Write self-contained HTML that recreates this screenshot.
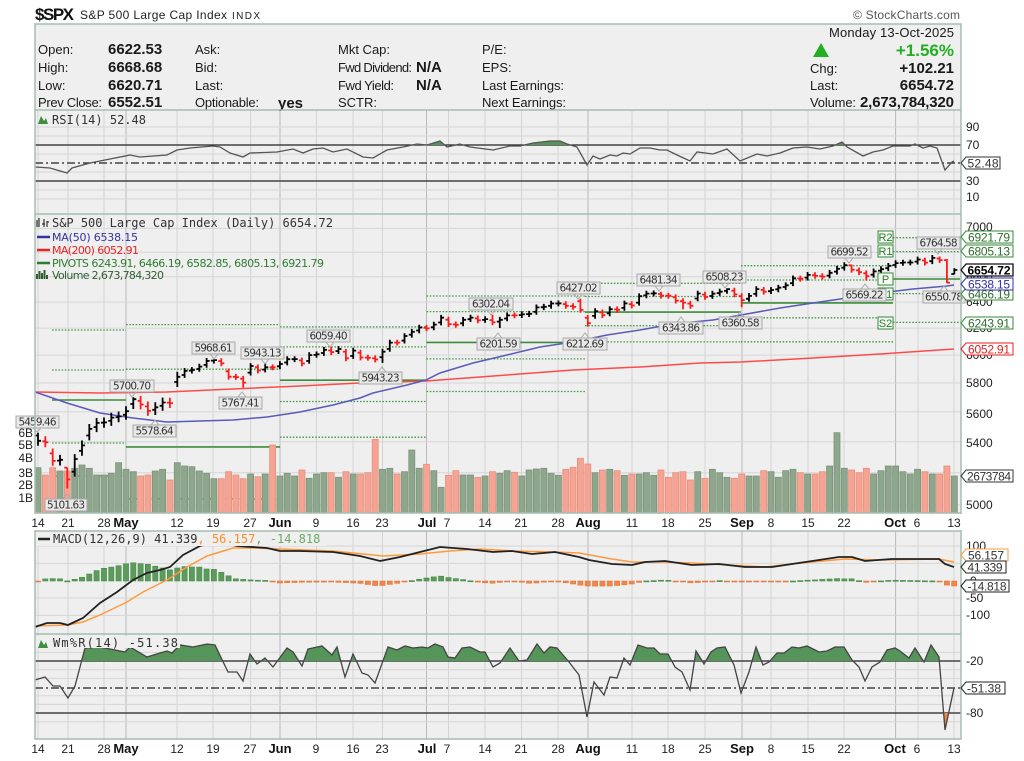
<!DOCTYPE html>
<html><head><meta charset="utf-8"><title>SPX</title>
<style>
html,body{margin:0;padding:0;background:#fff;overflow:hidden}
svg{display:block}
.h{font-family:"Liberation Sans",Arial,sans-serif;font-size:13px;fill:#1a1a1a}
.hb{font-family:"Liberation Sans",Arial,sans-serif;font-size:15px;font-weight:bold;fill:#1a1a1a}
.mono{font-family:"DejaVu Sans Mono","Liberation Mono",monospace;font-size:12px}
.lg{font-family:"DejaVu Sans","Liberation Sans",sans-serif;font-size:11px}
.ax{font-family:"Liberation Sans",Arial,sans-serif;font-size:12px;fill:#222}
.axb{font-family:"Liberation Sans",Arial,sans-serif;font-size:13px;font-weight:bold;fill:#111}
.an rect{fill:#e8e8e8;stroke:#a8a8a8;stroke-width:1}
.an path{fill:none;stroke:#a8a8a8;stroke-width:1}
.an text{font-family:"DejaVu Sans","Liberation Sans",sans-serif;font-size:10.5px;fill:#333}
.tg text{font-family:"Liberation Sans",Arial,sans-serif;font-size:12px}
.pl rect{fill:#f3f8f3;stroke:#3a8a3a;stroke-width:1}
.pl text{font-family:"Liberation Sans",Arial,sans-serif;font-size:11px;fill:#2e7d2e}
</style></head><body>
<svg id="c" width="1024" height="761" viewBox="0 0 1024 761" xmlns="http://www.w3.org/2000/svg">
<defs>
<clipPath id="rsiTop"><rect x="35" y="110" width="926" height="35"/></clipPath>
<clipPath id="wrTop"><rect x="35" y="634" width="926" height="27"/></clipPath>
<clipPath id="wrBot"><rect x="35" y="713" width="926" height="26"/></clipPath>
<clipPath id="mainClip"><rect x="35" y="214" width="926" height="299"/></clipPath>
<clipPath id="macdClip"><rect x="35" y="531" width="926" height="103"/></clipPath>
</defs>
<rect width="1024" height="761" fill="#fff"/>
<rect x="35" y="24" width="926" height="86" fill="#efefef"/>
<rect x="35" y="110" width="926" height="104" fill="#efefef"/>
<rect x="35" y="214" width="926" height="299" fill="#efefef"/>
<rect x="35" y="531" width="926" height="103" fill="#efefef"/>
<rect x="35" y="634" width="926" height="105" fill="#efefef"/>
<g id="grid"></g>

<text x="35" y="20" font-family="Liberation Sans,Arial,sans-serif" font-size="17" font-weight="bold" fill="#111" textLength="39">$SPX</text>
<text x="80" y="19" font-family="Liberation Sans,Arial,sans-serif" font-size="12" fill="#222" textLength="147">S&amp;P 500 Large Cap Index</text>
<text x="232" y="19" font-family="Liberation Sans,Arial,sans-serif" font-size="10" fill="#222" textLength="28">INDX</text>
<text x="960" y="19" text-anchor="end" font-family="Liberation Sans,Arial,sans-serif" font-size="12" fill="#555" textLength="107">© StockCharts.com</text>

<text class="h" x="38" y="54">Open:</text>
<text class="h" x="38" y="72">High:</text>
<text class="h" x="38" y="90">Low:</text>
<text class="h" x="38" y="107" textLength="64">Prev Close:</text>
<text class="hb" x="108" y="54">6622.53</text>
<text class="hb" x="108" y="72">6668.68</text>
<text class="hb" x="108" y="90">6620.71</text>
<text class="hb" x="108" y="107">6552.51</text>
<text class="h" x="195" y="54">Ask:</text>
<text class="h" x="195" y="72">Bid:</text>
<text class="h" x="195" y="90">Last:</text>
<text class="h" x="195" y="107" textLength="64">Optionable:</text>
<text class="hb" x="278" y="108">yes</text>
<text class="h" x="338" y="54">Mkt Cap:</text>
<text class="h" x="338" y="72" textLength="74">Fwd Dividend:</text>
<text class="h" x="338" y="90" textLength="56">Fwd Yield:</text>
<text class="h" x="338" y="107">SCTR:</text>
<text class="hb" x="416" y="72" font-size="14">N/A</text>
<text class="hb" x="416" y="90" font-size="14">N/A</text>
<text class="h" x="482" y="54">P/E:</text>
<text class="h" x="482" y="72">EPS:</text>
<text class="h" x="482" y="90" textLength="82">Last Earnings:</text>
<text class="h" x="482" y="107" textLength="84">Next Earnings:</text>
<text class="h" x="954" y="37" text-anchor="end" textLength="125">Monday  13-Oct-2025</text>
<polygon points="813,57 821,43 829,57" fill="#22b022"/>
<text x="954" y="56" text-anchor="end" font-family="Liberation Sans,Arial,sans-serif" font-size="17" font-weight="bold" fill="#22b022">+1.56%</text>
<text class="h" x="810" y="73">Chg:</text>
<text class="h" x="810" y="90">Last:</text>
<text class="h" x="810" y="107" textLength="46">Volume:</text>
<text class="hb" x="954" y="73" text-anchor="end">+102.21</text>
<text class="hb" x="954" y="90" text-anchor="end">6654.72</text>
<text class="hb" x="954" y="107" text-anchor="end" textLength="94">2,673,784,320</text>

<line x1="35" y1="145" x2="961" y2="145" stroke="#222" stroke-width="1.3"/>
<line x1="35" y1="181" x2="961" y2="181" stroke="#222" stroke-width="1.3"/>
<line x1="35" y1="163" x2="961" y2="163" stroke="#222" stroke-width="1.2" stroke-dasharray="8,3,2,3"/>
<polygon id="rsiFill" clip-path="url(#rsiTop)" fill="#55955a" points=""/>
<polyline id="rsiLine" fill="none" stroke="#555" stroke-width="1.3" points=""/>
<path d="M38,124 L41,116 L44,121 L46,118 L48,124 Z" fill="#3f8f3f"/>
<text class="mono" x="52" y="124" fill="#333" textLength="94">RSI(14) 52.48</text>

<g clip-path="url(#mainClip)">
<g id="piv"></g>
<g id="vol"></g>
<polyline id="ma200" fill="none" stroke="#ff4a4a" stroke-width="1.5" points="35,392 100,393 167,392 233,389 300,386 360,383 426,381 507,375 573,370 640,367 700,363 741,362 813,358 880,354 954,349"/>
<polyline id="ma50" fill="none" stroke="#5a5ab8" stroke-width="1.5" points="35,392 67,403 100,413 133,418 167,422 200,421 233,420 267,417 300,412 333,405 360,398 373,393 407,385 426,380 440,373 473,363 507,355 540,347 573,342 607,335 640,330 673,324 713,320 741,315 780,308 813,303 847,298 880,293 913,289 947,286 954,285"/>
<g id="bars"></g>
</g>

<path d="M37,227 v-7 M39,227 v-9 M42,224 h3 M44,227 v-8 M47,221 v6 M49,222 h-2" stroke="#333" stroke-width="1.2" fill="none"/>
<text class="mono" x="52" y="227" fill="#333" textLength="281">S&amp;P 500 Large Cap Index (Daily) 6654.72</text>
<line x1="37" y1="237" x2="50" y2="237" stroke="#3333a0" stroke-width="2.5"/>
<text class="lg" x="52" y="241" fill="#3333a0" textLength="86">MA(50) 6538.15</text>
<line x1="37" y1="250" x2="50" y2="250" stroke="#ee2222" stroke-width="2.5"/>
<text class="lg" x="52" y="254" fill="#ee2222" textLength="87">MA(200) 6052.91</text>
<line x1="37" y1="263" x2="50" y2="263" stroke="#2e7d2e" stroke-width="2.5"/>
<text class="lg" x="52" y="267" fill="#2e7d2e" textLength="272">PIVOTS 6243.91, 6466.19, 6582.85, 6805.13, 6921.79</text>
<path d="M37,279 v-5 M39.5,279 v-8 M42,279 v-6 M44.5,279 v-9 M47,279 v-4" stroke="#2f5f2f" stroke-width="2" fill="none"/>
<text class="lg" x="52" y="279" fill="#2f5f2f" textLength="112">Volume 2,673,784,320</text>

<g class="pl">
<rect x="878" y="231" width="15" height="12"/><text x="885.5" y="241" text-anchor="middle">R2</text>
<rect x="878" y="245" width="15" height="12"/><text x="885.5" y="255" text-anchor="middle">R1</text>
<rect x="878" y="273" width="15" height="12"/><text x="885.5" y="283" text-anchor="middle">P</text>
<rect x="878" y="288" width="15" height="12"/><text x="885.5" y="298" text-anchor="middle">S1</text>
<rect x="878" y="317" width="15" height="12"/><text x="885.5" y="327" text-anchor="middle">S2</text>
</g>

<g class="an">
<rect x="16" y="416" width="43" height="12"/><text x="37.5" y="425.5" text-anchor="middle" textLength="38">5459.46</text><path d="M33,428 L37,432 L41,428"/>
<rect x="45" y="499" width="42" height="12"/><text x="66" y="508.5" text-anchor="middle" textLength="38">5101.63</text><path d="M63,499 L67,494 L71,499"/>
<rect x="110" y="380" width="44" height="12"/><text x="132" y="389.5" text-anchor="middle" textLength="38">5700.70</text><path d="M128,392 L132,397 L136,392"/>
<rect x="133" y="425" width="43" height="12"/><text x="154.5" y="434.5" text-anchor="middle" textLength="38">5578.64</text><path d="M151,425 L155,420 L159,425"/>
<rect x="192" y="342" width="43" height="12"/><text x="213.5" y="351.5" text-anchor="middle" textLength="38">5968.61</text><path d="M210,354 L214,359 L218,354"/>
<rect x="219" y="397" width="43" height="12"/><text x="240.5" y="406.5" text-anchor="middle" textLength="38">5767.41</text><path d="M238,397 L242,392 L246,397"/>
<rect x="241" y="347" width="43" height="12"/><text x="262.5" y="356.5" text-anchor="middle" textLength="38">5943.13</text><path d="M261,359 L265,364 L269,359"/>
<rect x="307" y="330" width="43" height="12"/><text x="328.5" y="339.5" text-anchor="middle" textLength="38">6059.40</text><path d="M326,342 L330,347 L334,342"/>
<rect x="359" y="372" width="43" height="12"/><text x="380.5" y="381.5" text-anchor="middle" textLength="38">5943.23</text><path d="M378,372 L382,367 L386,372"/>
<rect x="469" y="298" width="44" height="12"/><text x="491" y="307.5" text-anchor="middle" textLength="38">6302.04</text><path d="M487,310 L491,315 L495,310"/>
<rect x="477" y="338" width="43" height="12"/><text x="498.5" y="347.5" text-anchor="middle" textLength="38">6201.59</text><path d="M494,338 L498,333 L502,338"/>
<rect x="557" y="282" width="43" height="12"/><text x="578.5" y="291.5" text-anchor="middle" textLength="38">6427.02</text><path d="M574,294 L578,299 L582,294"/>
<rect x="563" y="338" width="44" height="12"/><text x="585" y="347.5" text-anchor="middle" textLength="38">6212.69</text><path d="M581,338 L585,333 L589,338"/>
<rect x="637" y="274" width="43" height="12"/><text x="658.5" y="283.5" text-anchor="middle" textLength="38">6481.34</text><path d="M655,286 L659,291 L663,286"/>
<rect x="659" y="322" width="44" height="12"/><text x="681" y="331.5" text-anchor="middle" textLength="38">6343.86</text><path d="M677,322 L681,317 L685,322"/>
<rect x="703" y="271" width="43" height="12"/><text x="724.5" y="280.5" text-anchor="middle" textLength="38">6508.23</text><path d="M721,283 L725,288 L729,283"/>
<rect x="719" y="317" width="43" height="12"/><text x="740.5" y="326.5" text-anchor="middle" textLength="38">6360.58</text><path d="M736,317 L740,312 L744,317"/>
<rect x="828" y="246" width="43" height="12"/><text x="849.5" y="255.5" text-anchor="middle" textLength="38">6699.52</text><path d="M845,258 L849,263 L853,258"/>
<rect x="843" y="289" width="43" height="12"/><text x="864.5" y="298.5" text-anchor="middle" textLength="38">6569.22</text><path d="M861,289 L865,284 L869,289"/>
<rect x="917" y="237" width="43" height="12"/><text x="938.5" y="246.5" text-anchor="middle" textLength="38">6764.58</text><path d="M934,249 L938,254 L942,249"/>
<rect x="923" y="291" width="42" height="12"/><text x="944" y="300.5" text-anchor="middle" textLength="38">6550.78</text><path d="M940,291 L944,286 L948,291"/>
</g>

<g class="ax" text-anchor="end">
<text x="33" y="437">6B</text><text x="33" y="449">5B</text><text x="33" y="462">4B</text>
<text x="33" y="477">3B</text><text x="33" y="489">2B</text><text x="33" y="502">1B</text>
</g>

<g id="hist"></g>
<g clip-path="url(#macdClip)">
<polyline id="macdS" fill="none" stroke="#ff9a3c" stroke-width="1.5" points="35,626 67,625 83,622 100,615 127,602 143,592 167,580 187,567 207,556 233,548 253,548 280,549 333,551 383,556 420,554 450,551 480,549 512,551 555,552 579,553 612,559 632,562 662,562 692,563 729,565 765,567 792,564 812,562 845,559 879,560 939,559 954,562"/>
<polyline id="macdL" fill="none" stroke="#222" stroke-width="1.8" points="35,627 47,623 60,623 68,625 83,618 100,603 117,592 133,580 147,573 160,570 170,567 183,555 200,546 215,542 228,544 237,546 267,548 280,551 300,551 333,552 360,556 380,561 400,557 420,552 440,547 467,549 493,552 512,551 532,554 555,552 579,557 589,560 612,564 632,565 645,562 665,561 692,565 719,564 745,567 772,567 792,564 819,560 839,557 852,557 865,561 892,559 939,559 945,564 954,567"/>
</g>
<rect x="36" y="532" width="290" height="14" fill="#efefef"/>
<line x1="38" y1="539" x2="50" y2="539" stroke="#222" stroke-width="2.5"/>
<text class="mono" x="53" y="543" fill="#333"><tspan>MACD(12,26,9) 41.339</tspan><tspan fill="#ff8c2a">, 56.157</tspan><tspan fill="#6aaa6a">, -14.818</tspan></text>

<line x1="35" y1="661" x2="961" y2="661" stroke="#222" stroke-width="1.3"/>
<line x1="35" y1="713" x2="961" y2="713" stroke="#222" stroke-width="1.3"/>
<line x1="35" y1="688" x2="961" y2="688" stroke="#222" stroke-width="1.2" stroke-dasharray="8,3,2,3"/>
<polygon id="wrFillG" clip-path="url(#wrTop)" fill="#55955a" points=""/>
<polygon id="wrFillO" clip-path="url(#wrBot)" fill="#f0874a" points=""/>
<polyline id="wrLine" fill="none" stroke="#444" stroke-width="1.3" points=""/>
<rect x="36" y="636" width="144" height="12" fill="#efefef"/>
<path d="M38,648 L41,640 L44,645 L46,642 L48,648 Z" fill="#3f8f3f"/>
<text class="mono" x="53" y="647" fill="#333" textLength="125">Wm%R(14) -51.38</text>

<g fill="none" stroke="#a6bdb0" stroke-width="1.5">
<rect x="35" y="24" width="926" height="715"/>
<line x1="35" y1="110" x2="961" y2="110"/>
<line x1="35" y1="214" x2="961" y2="214"/>
<line x1="35" y1="513" x2="961" y2="513"/>
<line x1="35" y1="531" x2="961" y2="531"/>
<line x1="35" y1="634" x2="961" y2="634"/>
</g>
<rect x="0" y="514" width="1024" height="16" fill="#fff"/>

<g class="ax">
<text x="966" y="131">90</text><text x="966" y="149">70</text><text x="966" y="185">30</text><text x="966" y="201">10</text>
<text x="966" y="231">7000</text><text x="966" y="256">6800</text><text x="966" y="281">6600</text><text x="966" y="306">6400</text>
<text x="966" y="332">6200</text><text x="966" y="359">6000</text><text x="966" y="387">5800</text><text x="966" y="418">5600</text>
<text x="966" y="447">5400</text><text x="966" y="478">5200</text><text x="966" y="509">5000</text>
<text x="966" y="550">100</text><text x="966" y="567">50</text><text x="970" y="585">0</text><text x="966" y="602">-50</text><text x="966" y="619">-100</text>
<text x="966" y="665">-20</text><text x="966" y="692">-50</text><text x="966" y="717">-80</text>
</g>

<g class="tg">
<path d="M961,163 l5,-6 h34 v12 h-34 z" fill="#fff" stroke="#333"/><text x="983" y="167.5" text-anchor="middle" fill="#333" textLength="31">52.48</text>
<path d="M961,237 l5,-6 h47 v12 h-47 z" fill="#fff" stroke="#3a8a3a"/><text x="989" y="241.5" text-anchor="middle" fill="#2e6e2e" textLength="42">6921.79</text>
<path d="M961,251 l5,-6 h47 v12 h-47 z" fill="#fff" stroke="#3a8a3a"/><text x="989" y="255.5" text-anchor="middle" fill="#2e6e2e" textLength="42">6805.13</text>
<path d="M961,294 l5,-6 h47 v12 h-47 z" fill="#fff" stroke="#3a8a3a"/><text x="989" y="298.5" text-anchor="middle" fill="#2e6e2e" textLength="42">6466.19</text>
<path d="M961,284 l5,-6 h47 v12 h-47 z" fill="#fff" stroke="#3030a0"/><text x="989" y="288.5" text-anchor="middle" fill="#3030a0" textLength="42">6538.15</text>
<path d="M961,270 l5,-6 h47 v12 h-47 z" fill="#fff" stroke="#111" stroke-width="1.3"/><text x="989" y="274.5" text-anchor="middle" fill="#000" font-weight="bold" textLength="43">6654.72</text>
<path d="M961,323 l5,-6 h47 v12 h-47 z" fill="#fff" stroke="#3a8a3a"/><text x="989" y="327.5" text-anchor="middle" fill="#2e6e2e" textLength="42">6243.91</text>
<path d="M961,349 l5,-6 h47 v12 h-47 z" fill="#fff" stroke="#e02020"/><text x="989" y="353.5" text-anchor="middle" fill="#e02020" textLength="42">6052.91</text>
<path d="M961,476 l5,-6 h47 v12 h-47 z" fill="#fff" stroke="#333"/><text x="989" y="480.5" text-anchor="middle" fill="#333" textLength="44">2673784</text>
<path d="M961,555 l5,-6 h42 v12 h-42 z" fill="#fff" stroke="#ff9a3c"/><text x="986" y="559.5" text-anchor="middle" fill="#333" textLength="36">56.157</text>
<path d="M961,567 l5,-6 h40 v12 h-40 z" fill="#fff" stroke="#222"/><text x="985" y="571.5" text-anchor="middle" fill="#333" textLength="35">41.339</text>
<path d="M961,586 l5,-6 h43 v12 h-43 z" fill="#fff" stroke="#222"/><text x="987" y="590.5" text-anchor="middle" fill="#333" textLength="39">-14.818</text>
<path d="M961,688 l5,-6 h39 v12 h-39 z" fill="#fff" stroke="#222"/><text x="984" y="692.5" text-anchor="middle" fill="#333" textLength="34">-51.38</text>
</g>

<g text-anchor="middle">
<g class="ax">
<text x="38" y="527">14</text><text x="68" y="527">21</text><text x="104" y="527">28</text><text x="177" y="527">12</text><text x="213" y="527">19</text><text x="250" y="527">27</text><text x="316" y="527">9</text><text x="353" y="527">16</text><text x="382" y="527">23</text><text x="447" y="527">7</text><text x="485" y="527">14</text><text x="521" y="527">21</text><text x="558" y="527">28</text><text x="632" y="527">11</text><text x="668" y="527">18</text><text x="705" y="527">25</text><text x="771" y="527">8</text><text x="808" y="527">15</text><text x="844" y="527">22</text><text x="917" y="527">6</text><text x="954" y="527">13</text>
<text x="38" y="753">14</text><text x="68" y="753">21</text><text x="104" y="753">28</text><text x="177" y="753">12</text><text x="213" y="753">19</text><text x="250" y="753">27</text><text x="316" y="753">9</text><text x="353" y="753">16</text><text x="382" y="753">23</text><text x="447" y="753">7</text><text x="485" y="753">14</text><text x="521" y="753">21</text><text x="558" y="753">28</text><text x="632" y="753">11</text><text x="668" y="753">18</text><text x="705" y="753">25</text><text x="771" y="753">8</text><text x="808" y="753">15</text><text x="844" y="753">22</text><text x="917" y="753">6</text><text x="954" y="753">13</text>
</g>
<g class="axb">
<text x="126" y="527">May</text><text x="280" y="527">Jun</text><text x="427" y="527">Jul</text><text x="588" y="527">Aug</text><text x="742" y="527">Sep</text><text x="895" y="527">Oct</text>
<text x="126" y="753">May</text><text x="280" y="753">Jun</text><text x="427" y="753">Jul</text><text x="588" y="753">Aug</text><text x="742" y="753">Sep</text><text x="895" y="753">Oct</text>
</g>
</g>
</svg>
<script>
(function(){
const NS="http://www.w3.org/2000/svg";
function el(tag,a,p){const e=document.createElementNS(NS,tag);for(const k in a)e.setAttribute(k,a[k]);p.appendChild(e);return e;}
const X=i=>38+7.33*i;
const PY=p=>505-822*Math.log(p/5000);
const g=document.getElementById('grid');
const weekly=[38,68,104,177,213,250.6,316.5,353,382.5,448.5,485,521.5,558,632,668,705,771,808,844,918,954];
const months=[126,280,426.5,588,742,895.6];
[[110,214],[214,513],[531,634],[634,739]].forEach(([a,b])=>{
  weekly.forEach(x=>el('line',{x1:x,y1:a,x2:x,y2:b,stroke:'#d4d4d4','stroke-width':1},g));
  months.forEach(x=>el('line',{x1:x,y1:a,x2:x,y2:b,stroke:'#b9b9b9','stroke-width':1},g));
});
function hl(y){el('line',{x1:35,y1:y,x2:961,y2:y,stroke:'#d6d6d6','stroke-width':1},g);}
[90,80,60,40,20,10].forEach(v=>hl(208-0.9*v));
[5000,5200,5400,5600,5800,6000,6200,6400,6600,6800,7000].forEach(p=>hl(PY(p)));
[100,50,-50,-100].forEach(v=>hl(580.7-0.3467*v));
[-10,-30,-40,-60,-70,-90].forEach(v=>hl(643.7-0.867*v));

const rsi="35,167 50,168 67,173 72,168 90,163 110,159 130,155 140,157 167,155 177,150 190,148 213,146 220,147 230,153 243,157 250,153 277,152 293,149 303,153 313,149 323,148 333,152 347,149 363,157 373,158 387,150 403,147 417,144 427,145 440,141 447,147 460,144 470,147 493,150 510,146 520,146 533,143 550,141 560,141 567,144 577,147 587,165 593,156 600,159 610,155 617,156 623,153 630,154 640,148 650,148 660,150 667,150 677,155 690,161 697,152 713,154 727,149 740,161 757,154 767,156 780,153 793,148 807,147 820,149 833,146 842,142 847,147 863,156 873,152 883,150 893,146 910,146 915,144 923,148 930,146 937,148 945,170 952,162 954,161";
document.getElementById('rsiLine').setAttribute('points',rsi);
document.getElementById('rsiFill').setAttribute('points',rsi+" 954,145 35,145");
const wr="35,680 45,677 53,686 60,686 68,698 75,686 85,648 100,647 125,652 130,647 147,657 160,653 167,651 172,653 180,645 193,647 207,644 215,645 228,672 237,672 243,681 250,654 257,664 265,658 273,667 287,648 293,652 302,666 308,649 322,646 332,655 337,647 345,677 353,654 362,673 368,675 375,683 388,647 397,650 405,646 413,648 422,647 428,648 435,644 443,647 448,657 455,658 462,648 470,647 480,652 485,652 493,667 500,663 510,648 519,661 527,660 537,644 544,653 550,647 557,648 569,662 579,675 587,717 594,682 604,695 610,677 617,678 624,658 630,665 638,645 647,648 654,648 660,654 668,654 675,667 682,672 690,690 696,651 704,664 711,652 717,648 725,647 734,665 741,693 749,672 756,647 763,665 769,662 777,653 784,653 792,647 799,648 807,646 819,652 827,651 835,647 844,647 852,660 859,667 865,681 872,667 880,662 887,650 895,648 900,651 909,658 915,648 924,662 931,645 939,657 945,730 954,688";
document.getElementById('wrLine').setAttribute('points',wr);
document.getElementById('wrFillG').setAttribute('points',wr+" 954,661 35,661");
document.getElementById('wrFillO').setAttribute('points',wr+" 954,713 35,713");

const pv=document.getElementById('piv');
const piv=[[52,126,[330,370,400,443,476]],[126,280,[324.6,369.2,446.9,498.8,null]],[280,426.5,[326.9,346.9,380.2,401.5,437.2]],[426.5,585,[296,311.6,342.4,358.9,391.5]],[585,741,[283.3,296.5,312.1,325.7,341.9]],[741,893,[265.7,280,302.9,317.8,341.8]],[893,960,[237.7,251.6,279,293.6,322.4]]];
piv.forEach(([a,b,ys])=>ys.forEach((y,k)=>{if(y==null)return;
  if(k==2)el('line',{x1:a,y1:y,x2:b,y2:y,stroke:'#3c8a3c','stroke-width':1.6},pv);
  else el('line',{x1:a,y1:y,x2:b,y2:y,stroke:'#4a9a4a','stroke-width':1.3,'stroke-dasharray':'1.6,1.6'},pv);
}));

const C=[5405.97,5396.63,5275.70,5282.70,5158.20,5287.76,5375.86,5484.77,5525.21,5528.75,5560.83,5569.06,5604.14,5686.67,5650.38,5606.91,5631.28,5663.94,5659.91,5844.19,5886.55,5892.58,5916.93,5958.38,5963.60,5940.46,5844.61,5842.01,5802.82,5921.54,5888.55,5912.17,5911.69,5935.94,5970.37,5970.81,5939.30,6000.36,6005.88,6038.81,6022.24,6045.26,5976.97,6033.11,5982.72,5980.87,5967.84,6025.17,6092.18,6092.16,6141.02,6173.07,6204.95,6198.01,6227.42,6279.35,6229.98,6225.52,6263.26,6280.46,6259.75,6268.56,6243.76,6263.70,6297.36,6296.79,6305.60,6309.62,6358.91,6363.35,6388.64,6389.77,6370.86,6362.90,6339.39,6238.01,6329.94,6299.19,6345.06,6340.00,6389.45,6373.45,6445.76,6466.58,6468.54,6449.80,6449.15,6411.37,6395.78,6370.17,6466.91,6439.32,6465.94,6481.40,6501.86,6460.26,6415.54,6448.26,6502.08,6481.50,6495.15,6512.61,6532.04,6587.47,6584.29,6615.28,6606.76,6600.35,6631.96,6664.36,6693.75,6656.92,6637.97,6604.72,6643.70,6661.21,6688.46,6711.20,6715.35,6715.79,6740.28,6714.59,6753.72,6735.11,6552.51,6654.72];
const ov={0:{o:5441,h:5459.46},4:{o:5232,h:5232,l:5101.63},5:{o:5207},13:{h:5700.70},16:{l:5578.64},19:{o:5807},24:{h:5968.61},28:{l:5767.41},31:{h:5943.13},40:{h:6059.40},47:{l:5943.23},62:{h:6302.04},63:{l:6201.59},74:{o:6407,h:6427.02},75:{l:6212.69},85:{h:6481.34},88:{l:6343.86},94:{h:6508.23},96:{l:6360.58},111:{o:6693,h:6699.52},113:{l:6569.22},123:{h:6764.58},124:{o:6735,h:6744,l:6550.78},125:{o:6622.53,h:6668.68,l:6620.71}};
let dB='',dR='';
const up=[];
for(let i=0;i<C.length;i++){
  const pc=i?C[i-1]:5363.36, c=C[i], ch=Math.abs(c-pc)/pc;
  const f=ch>0.012?0.6:0.3;
  const r=i<20?0.006:0.0035;
  const O=ov[i]||{};
  const o=O.o!=null?O.o:pc+f*(c-pc);
  const h=O.h!=null?O.h:Math.max(o,c)*(1+r);
  const l=O.l!=null?O.l:Math.min(o,c)*(1-r);
  const x=X(i);
  const s=`M${x.toFixed(1)},${PY(h).toFixed(1)}V${PY(l).toFixed(1)}M${(x-3).toFixed(1)},${PY(o).toFixed(1)}H${x.toFixed(1)}M${x.toFixed(1)},${PY(c).toFixed(1)}H${(x+3).toFixed(1)}`;
  const isUp=c>=pc; up.push(isUp);
  if(isUp)dB+=s;else dR+=s;
}
const bg=document.getElementById('bars');
el('path',{d:dB,stroke:'#000','stroke-width':1.8,fill:'none'},bg);
el('path',{d:dR,stroke:'#ff1a1a','stroke-width':1.8,fill:'none'},bg);

const VZ=[833,855,833,843,843,835,825,835,855,855,850,818,838,845,858,855,843,838,870,818,828,830,843,850,866,866,845,855,866,852,860,852,765,858,850,858,840,865,852,848,848,862,845,852,
852,848,748,838,835,852,845,780,835,823,842,892,856,842,855,855,862,858,845,850,842,847,858,840,837,835,850,856,838,832,805,822,848,840,838,842,856,852,852,848,856,840,862,848,845,870,845,
865,838,848,862,865,852,858,858,842,845,862,842,838,848,852,852,845,828,728,835,840,848,835,852,842,828,828,845,852,838,845,852,852,828,858];
const vg=document.getElementById('vol');
for(let i=0;i<VZ.length&&i<C.length;i++){
  const t=190+VZ[i]/3;
  el('rect',{x:(X(i)-3).toFixed(1),y:t.toFixed(1),width:6,height:(513-t).toFixed(1),fill:up[i]?'#8ea68c':'#f5a393',stroke:up[i]?'#7a937a':'#e88f7e','stroke-width':0.8},vg);
}

function parse(s){return s.trim().split(/\s+/).map(p=>p.split(',').map(Number));}
function interp(pts,x){if(x<=pts[0][0])return pts[0][1];for(let k=1;k<pts.length;k++){if(x<=pts[k][0]){const a=pts[k-1],b=pts[k];return a[1]+(b[1]-a[1])*(x-a[0])/(b[0]-a[0]);}}return pts[pts.length-1][1];}
const mL=parse(document.getElementById('macdL').getAttribute('points'));
const mS=parse(document.getElementById('macdS').getAttribute('points'));
const hg=document.getElementById('hist');
for(let i=0;i<C.length;i++){
  const x=X(i);
  const t=581+interp(mL,x)-interp(mS,x);
  const y1=Math.min(t,581),y2=Math.max(t,581);
  const pos=t<581;
  el('rect',{x:(x-2.6).toFixed(1),y:y1.toFixed(1),width:5.2,height:Math.max(1,y2-y1).toFixed(1),fill:pos?'#5b9b5b':'#f0874a',stroke:pos?'#4a8a4a':'#e07a3e','stroke-width':0.6},hg);
}
})();
</script>
</body></html>
